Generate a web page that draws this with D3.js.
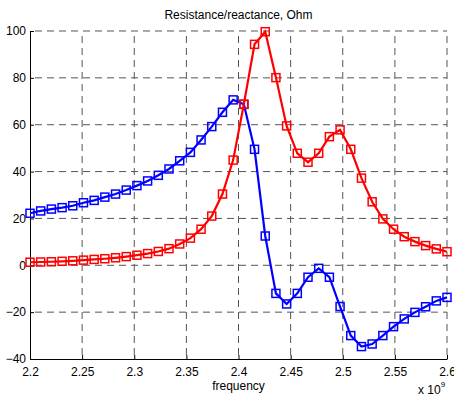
<!DOCTYPE html>
<html>
<head>
<meta charset="utf-8">
<script src="https://cdn.jsdelivr.net/npm/d3@7"></script>
<style>
  body { margin: 0; background: #fff; }
  svg { display: block; font-family: "Liberation Sans", Arial, sans-serif; }
  .grid line { stroke: #555; stroke-dasharray: 7,5; stroke-dashoffset: 7; stroke-width: 1; }
  .axis path, .axis line { stroke: #000; }
  .axis text { font-size: 12px; fill: #000; font-family: "Liberation Sans", Arial, sans-serif; }
</style>
</head>
<body>
<div id="chart"></div>
<script>
// 40 frequency samples, 2.2e9 .. 2.6e9 (shown in units of 1e9)
const nPoints = 40;
const xTicks = [2.2, 2.25, 2.3, 2.35, 2.4, 2.45, 2.5, 2.55, 2.6];
const xTickLabels = ['2.2', '2.25', '2.3', '2.35', '2.4', '2.45', '2.5', '2.55', '2.6'];
const yTicks = [-40, -20, 0, 20, 40, 60, 80, 100];

// resistance (red)
const resistance = [1.3, 1.4, 1.5, 1.7, 1.9, 2.2, 2.5, 2.8, 3.2, 3.7,
                    4.3, 5.0, 5.9, 7.1, 9.1, 11.6, 15.4, 21.0, 30.4, 44.9,
                    68.7, 94.3, 99.7, 80.1, 59.5, 47.8, 44.0, 47.8, 54.9, 57.8,
                    49.5, 37.2, 27.1, 19.8, 15.4, 12.2, 10.1, 8.4, 7.0, 5.8];

// reactance (blue)
const reactance = [22.2, 23.2, 24.0, 24.6, 25.4, 26.7, 27.7, 29.1, 30.4, 32.1,
                   34.0, 36.0, 38.4, 41.1, 44.6, 48.2, 53.5, 59.2, 65.3, 70.6,
                   68.7, 49.5, 12.5, -12.0, -16.5, -12.0, -5.1, -1.3, -5.1, -17.6,
                   -30.0, -34.7, -33.6, -30.0, -26.2, -22.9, -20.1, -17.7, -15.2, -13.7];

const freq = d3.range(nPoints).map(i => 2.2 + i * 0.4 / (nPoints - 1));

const W = 454, H = 397;
const margin = { top: 31, right: 7, bottom: 38, left: 30 };
const width = W - margin.left - margin.right;
const height = H - margin.top - margin.bottom;

const svgRoot = d3.select('#chart').append('svg')
    .attr('width', W)
    .attr('height', H);

const svg = svgRoot.append('g')
    .attr('transform', `translate(${margin.left},${margin.top})`);

const x = d3.scaleLinear().domain([2.2, 2.6]).range([0, width]);
const y = d3.scaleLinear().domain([-40, 100]).range([height, 0]);

// grid
const grid = svg.append('g').attr('class', 'grid');
grid.selectAll('.gx').data(xTicks.slice(1)).enter().append('line')
    .attr('x1', d => x(d)).attr('x2', d => x(d))
    .attr('y1', 0).attr('y2', height);
grid.selectAll('.gy').data(yTicks.slice(1)).enter().append('line')
    .attr('x1', 0).attr('x2', width)
    .attr('y1', d => y(d)).attr('y2', d => y(d));

// axes
svg.append('g')
    .attr('class', 'axis axis--x')
    .attr('transform', `translate(0,${height})`)
    .call(d3.axisBottom(x).tickValues(xTicks).tickFormat((d, i) => xTickLabels[i])
        .tickSizeInner(-4).tickSizeOuter(0).tickPadding(8));

svg.append('g')
    .attr('class', 'axis axis--y')
    .call(d3.axisLeft(y).tickValues(yTicks).tickFormat(d3.format('d'))
        .tickSizeInner(-4).tickSizeOuter(0).tickPadding(4));

// series
function drawSeries(values, color) {
    const pts = values.map((v, i) => ({ f: freq[i], v: v }));
    const line = d3.line().x(d => x(d.f)).y(d => y(d.v));
    svg.append('path')
        .datum(pts)
        .attr('d', line)
        .style('fill', 'none')
        .style('stroke', color)
        .style('stroke-width', '2.2px');
    svg.append('g').selectAll('rect')
        .data(pts)
        .enter().append('rect')
        .attr('x', d => x(d.f) - 4)
        .attr('y', d => y(d.v) - 4)
        .attr('width', 8)
        .attr('height', 8)
        .style('fill', 'none')
        .style('stroke', color)
        .style('stroke-width', '1.5px');
}

drawSeries(reactance, '#0000ff');
drawSeries(resistance, '#ff0000');

// labels
svgRoot.append('text')
    .attr('x', margin.left + width / 2)
    .attr('y', 19)
    .attr('text-anchor', 'middle')
    .style('font-size', '12px')
    .text('Resistance/reactance, Ohm');

svgRoot.append('text')
    .attr('x', margin.left + width / 2)
    .attr('y', 390)
    .attr('text-anchor', 'middle')
    .style('font-size', '12px')
    .text('frequency');

const exp = svgRoot.append('text')
    .attr('x', 418)
    .attr('y', 394)
    .style('font-size', '12px');
exp.append('tspan').text('x 10');
exp.append('tspan').attr('dy', -7).style('font-size', '8px').text('9');
</script>
</body>
</html>
